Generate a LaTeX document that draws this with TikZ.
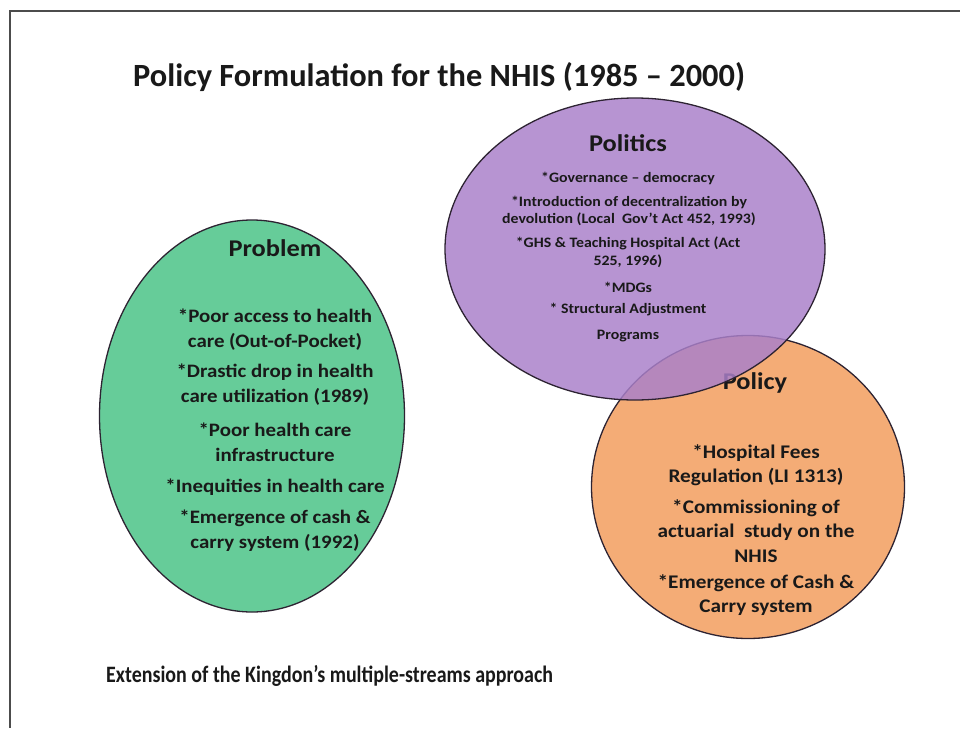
\documentclass[tikz,border=0pt]{standalone}
\usepackage{fontspec}
\setmainfont{Carlito}
\newfontfamily\widefont[FakeStretch=1.1]{Carlito}
\newfontfamily\narrowfont[FakeStretch=0.85]{Carlito}
\usetikzlibrary{shapes.geometric}
\definecolor{probfill}{RGB}{102,204,153}
\definecolor{polfill}{RGB}{170,128,202}
\definecolor{polyfill}{RGB}{244,172,118}
\definecolor{edgecol}{RGB}{45,35,50}
\definecolor{txtcol}{RGB}{25,25,25}
\tikzset{
  blob/.style={ellipse, draw=edgecol, line width=1.3pt, inner sep=0pt},
  head/.style={font=\widefont\bfseries\fontsize{24}{28}\selectfont, text=txtcol},
  probtxt/.style={font=\widefont\bfseries\fontsize{19}{25}\selectfont, align=center, text=txtcol, inner sep=0pt},
  poltxt/.style={font=\widefont\bfseries\fontsize{14.4}{17.5}\selectfont, align=center, text=txtcol, inner sep=0pt},
  polytxt/.style={font=\widefont\bfseries\fontsize{19.3}{24.5}\selectfont, align=center, text=txtcol, inner sep=0pt},
  titletxt/.style={font=\bfseries\fontsize{32.4}{36}\selectfont, text=txtcol, inner sep=0pt},
  captxt/.style={font=\narrowfont\bfseries\fontsize{23.5}{28}\selectfont, text=txtcol, inner sep=0pt}
}
\begin{document}
\begin{tikzpicture}[x=1pt,y=-1pt]
\useasboundingbox (0,0) rectangle (960,728);
\fill[white] (0,0) rectangle (960,728);
\coordinate (fa) at (10,11);
\coordinate (fb) at (960,11);
\coordinate (fc) at (10,728);
\draw[line width=1.6pt, black!70] (fb) -- (fa) -- (fc);

\node[titletxt, anchor=west] (title) at (133,77) {Policy Formulation for the NHIS (1985 – 2000)};

% Problem
\node[blob, fill=probfill, minimum width=305pt, minimum height=392pt] (probE) at (252,416) {};
\node[head] (probH) at (275,248) {Problem};
\node[probtxt] (p1) at (275,330) {*Poor access to health\\care (Out-of-Pocket)};
\node[probtxt] (p2) at (275,385) {*Drastic drop in health\\care utilization (1989)};
\node[probtxt] (p3) at (275,442) {*Poor health care\\infrastructure};
\node[probtxt] (p4) at (275,487) {*Inequities in health care};
\node[probtxt] (p5) at (275,531) {*Emergence of cash \&\\carry system (1992)};

% Policy
\node[blob, fill=polyfill, minimum width=313pt, minimum height=303pt] (polyE) at (748,487) {};
\node[head] (polyH) at (755,383) {Policy};
\node[polytxt] (q1) at (756,465) {*Hospital Fees\\Regulation (LI 1313)};
\node[polytxt] (q2) at (756,531) {*Commissioning of\\actuarial\ \ study on the\\NHIS};
\node[polytxt] (q3) at (756,595) {*Emergence of Cash \&\\Carry system};

% Politics
\node[blob, fill=polfill, fill opacity=0.84, minimum width=380pt, minimum height=302pt] (polE) at (635,249) {};
\node[head] (polH) at (628,143) {Politics};
\node[poltxt] (r1) at (628,178) {*Governance – democracy};
\node[poltxt] (r2) at (629,211) {*Introduction of decentralization by\\devolution (Local\ \ Gov’t Act 452, 1993)};
\node[poltxt] (r3) at (628,252) {*GHS \& Teaching Hospital Act (Act\\525, 1996)};
\node[poltxt] (r4) at (628,287) {*MDGs};
\node[poltxt] (r5) at (628,310) {* Structural Adjustment};
\node[poltxt] (r6) at (628,336) {Programs};

\node[captxt, anchor=west] (cap) at (106,676) {Extension of the Kingdon’s multiple-streams approach};
\end{tikzpicture}
\end{document}
